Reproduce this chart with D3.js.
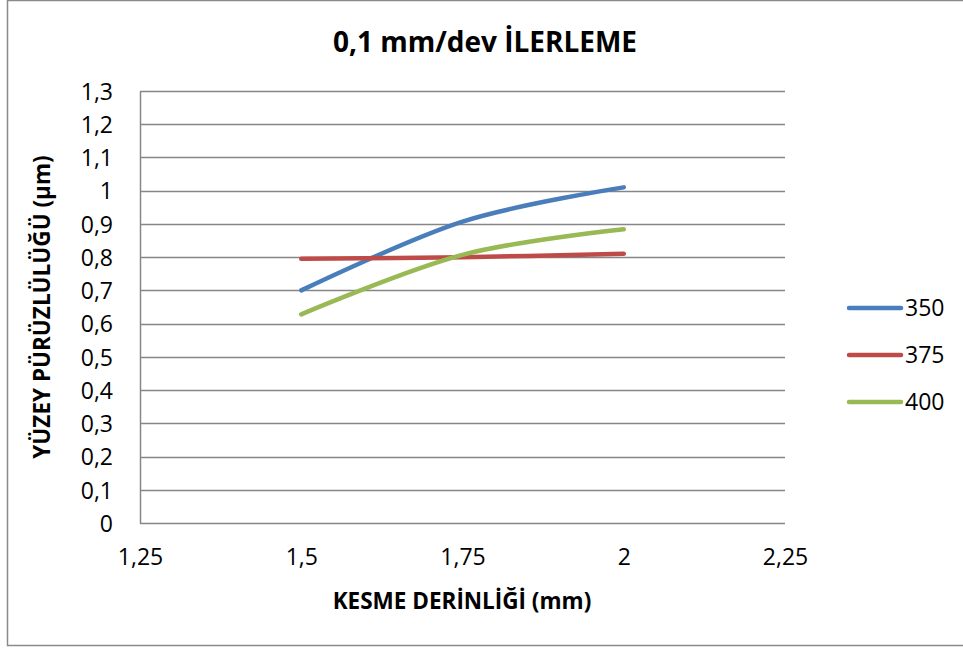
<!DOCTYPE html>
<html>
<head>
<meta charset="utf-8">
<script src="https://cdn.jsdelivr.net/npm/d3@7"></script>
<style>
  body { margin: 0; background: #fff; }
  svg text { font-family: "Open Sans", "Noto Sans", sans-serif; fill: #000; }
</style>
</head>
<body>
<div id="chart"></div>
<script>
// data
const depths = [1.5, 1.75, 2];
const speeds = ["350", "375", "400"];
const rough350 = [0.70, 0.907, 1.01];
const rough375 = [0.795, 0.80, 0.81];
const rough400 = [0.628, 0.807, 0.884];
const xTicks = [1.25, 1.5, 1.75, 2, 2.25];
const yTicks = [0, 0.1, 0.2, 0.3, 0.4, 0.5, 0.6, 0.7, 0.8, 0.9, 1, 1.1, 1.2, 1.3];
const colours = ["#4a7ebb", "#be4b48", "#98b954"];

const series = [rough350, rough375, rough400].map((vals, i) => ({
  key: speeds[i],
  values: vals.map((v, j) => ({x: depths[j], y: v}))
}));

window.addEventListener("load", () => {
  const W = 963, H = 650;
  const margin = {top: 91, right: 178, bottom: 127, left: 140};
  const width = W - margin.left - margin.right;
  const height = H - margin.top - margin.bottom;

  const svg = d3.select("#chart").append("svg")
    .attr("width", W)
    .attr("height", H);

  // outer border
  svg.append("rect")
    .attr("x", 7.5).attr("y", 0.5)
    .attr("width", 970).attr("height", 645)
    .attr("fill", "none")
    .attr("stroke", "#8a8a8a")
    .attr("stroke-width", 1.5);

  const chart = svg.append("g")
    .attr("transform", `translate(${margin.left},${margin.top})`);

  const fmt = d => String(d).replace(".", ",");

  // scales
  const x = d3.scaleLinear().domain([1.25, 2.25]).range([0, width]);
  const y = d3.scaleLinear().domain([0, 1.3]).range([height, 0]);

  // gridlines
  chart.append("g")
    .selectAll("line")
    .data(yTicks)
    .enter().append("line")
      .attr("x1", 0)
      .attr("x2", width)
      .attr("y1", d => Math.round(y(d)) + 0.5)
      .attr("y2", d => Math.round(y(d)) + 0.5)
      .attr("stroke", "#868686")
      .attr("stroke-width", 1.3);

  // y axis
  const yAxis = d3.axisLeft(y).tickValues(yTicks).tickFormat(fmt).tickSize(0).tickPadding(27);
  const yG = chart.append("g").call(yAxis);
  yG.select(".domain").attr("stroke", "#868686").attr("stroke-width", 1.5);
  yG.selectAll("text").style("font-size", "23px").attr("dy", "0.36em");

  // x axis
  const xAxis = d3.axisBottom(x).tickValues(xTicks).tickFormat(fmt).tickSize(0);
  const xG = chart.append("g")
    .attr("transform", `translate(0,${height})`)
    .call(xAxis);
  xG.select(".domain").remove();
  xG.selectAll("text").style("font-size", "23px").attr("y", 42).attr("dy", 0);

  // lines
  const line = d3.line()
    .x(d => x(d.x))
    .y(d => y(d.y))
    .curve(d3.curveCatmullRom.alpha(0));

  chart.selectAll(".series")
    .data(series)
    .enter().append("path")
      .attr("class", "series")
      .attr("fill", "none")
      .attr("stroke", (d, i) => colours[i])
      .attr("stroke-width", 4.5)
      .attr("stroke-linecap", "round")
      .attr("d", d => line(d.values));

  // title
  svg.append("text")
    .attr("x", 485).attr("y", 52)
    .attr("text-anchor", "middle")
    .style("font-size", "28px")
    .style("font-weight", "bold")
    .text("0,1 mm/dev İLERLEME");

  // axis titles
  svg.append("text")
    .attr("x", 462).attr("y", 609)
    .attr("text-anchor", "middle")
    .style("font-size", "22.5px")
    .style("font-weight", "bold")
    .text("KESME DERİNLİĞİ (mm)");

  svg.append("text")
    .attr("transform", "translate(50,307) rotate(-90)")
    .attr("text-anchor", "middle")
    .style("font-size", "22.5px")
    .style("font-weight", "bold")
    .text("YÜZEY PÜRÜZLÜLÜĞÜ (µm)");

  // legend
  const legend = svg.append("g")
    .selectAll("g")
    .data(series)
    .enter().append("g")
      .attr("transform", (d, i) => `translate(849,${308 + i * 47})`);

  legend.append("line")
    .attr("x1", 0).attr("x2", 52)
    .attr("stroke", (d, i) => colours[i])
    .attr("stroke-width", 4.5)
    .attr("stroke-linecap", "round");

  legend.append("text")
    .attr("x", 56).attr("dy", "0.36em")
    .style("font-size", "23px")
    .text(d => d.key);
});
</script>
</body>
</html>
